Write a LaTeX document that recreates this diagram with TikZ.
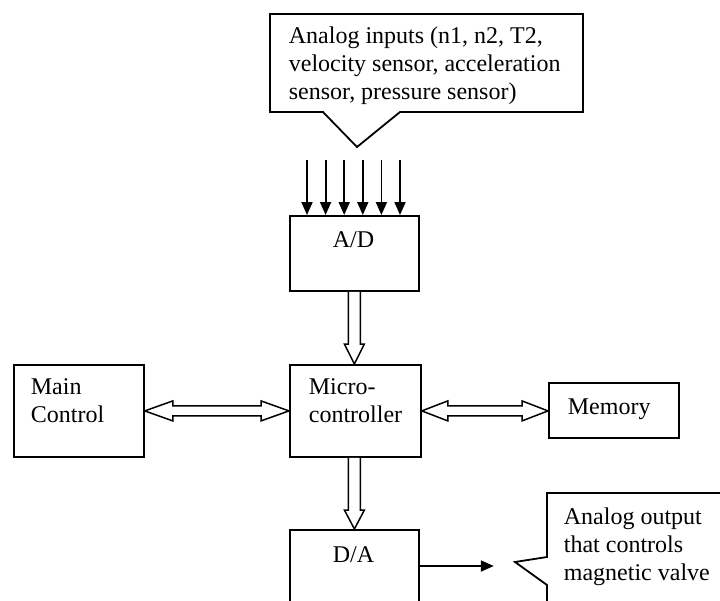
\documentclass[tikz,border=0pt]{standalone}
\usepackage{fontspec}
\setmainfont{Liberation Serif}
\usetikzlibrary{calc,arrows.meta}
\begin{document}
\begin{tikzpicture}[x=1pt,y=-1pt,line width=1.8pt,
  box/.style={draw,rectangle,inner sep=0pt,anchor=north west},
  lbl/.style={font=\fontsize{24}{28}\selectfont,align=left,inner sep=0pt},
  fat/.style={draw,line width=1.5pt,fill=white,line join=miter},
  thinarrow/.style={-{Triangle[length=13pt,width=11pt]},line width=1.8pt}]
\useasboundingbox (0,0) rectangle (720,600);

% callout for the inputs
\draw[line join=miter] (270,14) -- (583,14) -- (583,112) -- (400,112) -- (357,147) -- (323,112) -- (270,112) -- cycle;
\node[lbl,anchor=west] (intext) at (288,66) {Analog inputs (n1, n2, T2,\\velocity sensor, acceleration\\sensor, pressure sensor)};

% boxes
\node[box,minimum width=129pt,minimum height=75pt] (ad) at (289,215) {};
\node[box,minimum width=131pt,minimum height=92pt] (mc) at (289,364) {};
\node[box,minimum width=130pt,minimum height=92pt] (main) at (13,364) {};
\node[box,minimum width=130pt,minimum height=55pt] (mem) at (548,382) {};
\node[box,minimum width=129pt,minimum height=110pt] (da) at (289,529) {};

% texts
\node[lbl] (adt) at (353.5,240) {A/D};
\node[lbl,anchor=west] (mct) at (308,401) {Micro-\\controller};
\node[lbl,anchor=west] (maint) at (30,401) {Main\\Control};
\node[lbl,anchor=west] (memt) at (567,409) {Memory};
\node[lbl] (dat) at (353.5,555) {D/A};

% six input arrows
\foreach \dx in {18,36.6,55.2,73.8,92.4,111} {
  \draw[thinarrow] ($(ad.north west)+(\dx,-55)$) -- ($(ad.north west)+(\dx,0)$);
}

% A/D -> micro
\coordinate (t1) at (ad.south |- mc.north);
\draw[fat] ($(ad.south)+(-6,0)$) -- ($(t1)+(-6,-20)$) -- ++(-4,0) -- (t1)
  -- ($(t1)+(10,-20)$) -- ++(-4,0) -- ($(ad.south)+(6,0)$);
% micro -> D/A
\coordinate (s2) at (ad.south |- mc.south);
\coordinate (t2) at (ad.south |- da.north);
\draw[fat] ($(s2)+(-6,0)$) -- ($(t2)+(-6,-19)$) -- ++(-4,0) -- (t2)
  -- ($(t2)+(10,-19)$) -- ++(-4,0) -- ($(s2)+(6,0)$);

% main <-> micro
\coordinate (l1) at (main.east);
\coordinate (r1) at (mc.west |- main.east);
\draw[fat] (l1) -- ++(28,-10) -- ++(0,5) -- ($(r1)+(-28,-5)$) -- ++(0,-5) -- (r1)
  -- ++(-28,10) -- ++(0,-5) -- ($(l1)+(28,5)$) -- ++(0,5) -- cycle;
% micro <-> memory
\coordinate (l2) at (mc.east);
\coordinate (r2) at (mem.west |- mc.east);
\draw[fat] (l2) -- ++(26,-10) -- ++(0,5) -- ($(r2)+(-26,-5)$) -- ++(0,-5) -- (r2)
  -- ++(-26,10) -- ++(0,-5) -- ($(l2)+(26,5)$) -- ++(0,5) -- cycle;

% output arrow
\coordinate (dae) at ($(da.north east)+(0,37)$);
\coordinate (outtip) at ($(dae)+(74,0)$);
\draw[thinarrow] (dae) -- (outtip);

% output callout
\draw[line join=miter] (760,493) -- (547,493) -- (547,557) -- (515,562) -- (547,585) -- (547,640);
\node[lbl,anchor=west] (outtext) at (563,547) {Analog output\\that controls\\magnetic valve};
\end{tikzpicture}
\end{document}
